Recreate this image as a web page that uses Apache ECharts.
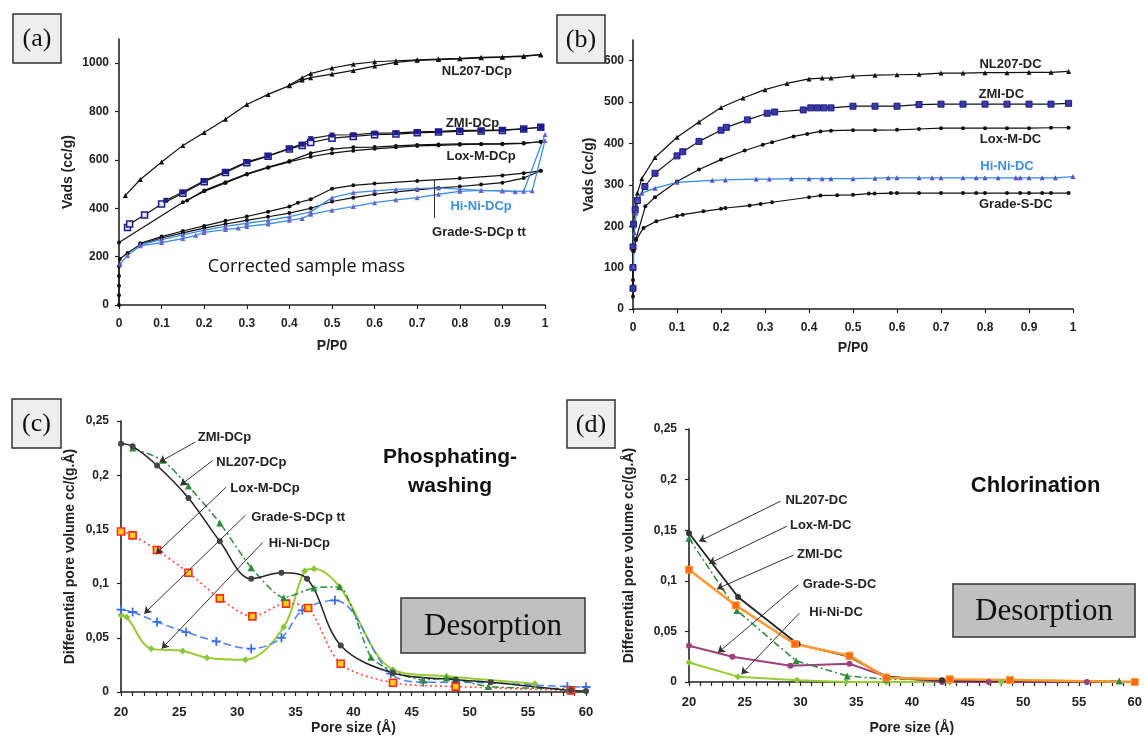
<!DOCTYPE html>
<html>
<head>
<meta charset="utf-8">
<script src="https://cdn.jsdelivr.net/npm/echarts@6/dist/echarts.min.js"></script>
<style>
  html, body { margin: 0; background: #fff; }
  #chart { width: 1145px; height: 736px; }
</style>
</head>
<body>
<div id="chart"></div>
<script>
const FONT = '"Liberation Sans", Arial, sans-serif';
const SERIF = '"Liberation Serif", "DejaVu Serif", serif';

// (a) phosphating-washing isotherms (adsorption / desorption branches), P/P0 vs cc/g
const aNL207Ads = [[0.015,453],[0.05,519],[0.1,591],[0.15,660],[0.2,713],[0.25,768],[0.3,829],[0.35,871],[0.4,907],[0.43,930],[0.45,940],[0.5,955],[0.55,970],[0.6,988],[0.65,1003],[0.7,1012],[0.75,1015],[0.8,1018],[0.85,1022],[0.9,1025],[0.95,1028],[0.99,1035]];
const aNL207Des = [[0.99,1035],[0.95,1030],[0.9,1026],[0.85,1024],[0.8,1020],[0.75,1017],[0.7,1014],[0.65,1010],[0.6,1006],[0.55,996],[0.5,980],[0.45,957],[0.43,940],[0.4,910]];
const aZMIAds = [[0.02,320],[0.025,335],[0.06,372],[0.1,418],[0.15,462],[0.2,510],[0.25,548],[0.3,588],[0.35,615],[0.4,645],[0.43,660],[0.45,672],[0.5,690],[0.55,697],[0.6,704],[0.65,707],[0.7,712],[0.75,715],[0.8,718],[0.85,720],[0.9,722],[0.95,728],[0.99,735]];
const aZMIDes = [[0.99,735],[0.95,728],[0.9,724],[0.85,722],[0.8,722],[0.75,718],[0.7,716],[0.65,712],[0.6,711],[0.55,704],[0.5,703],[0.45,688],[0.43,665],[0.4,648],[0.35,617],[0.3,592],[0.25,552],[0.2,514],[0.15,467],[0.11,433]];
const aLoxAds = [[0,258],[0.15,425],[0.2,470],[0.25,505],[0.3,540],[0.35,568],[0.4,592],[0.45,613],[0.5,628],[0.55,638],[0.6,646],[0.65,652],[0.7,658],[0.75,660],[0.8,663],[0.85,665],[0.9,665],[0.95,668],[0.99,675]];
const aLoxDes = [[0.99,675],[0.95,670],[0.9,667],[0.85,666],[0.8,666],[0.75,664],[0.7,662],[0.65,658],[0.6,653],[0.55,652],[0.5,645],[0.45,628],[0.4,595],[0.35,570],[0.3,542],[0.25,508],[0.2,474],[0.16,432]];
const aGradeAds = [[0,0],[0,40],[0,80],[0,120],[0,160],[0.002,190],[0.02,215],[0.05,250],[0.1,277],[0.15,298],[0.2,318],[0.25,335],[0.3,350],[0.35,365],[0.4,380],[0.45,400],[0.5,428],[0.55,444],[0.6,458],[0.65,468],[0.7,476],[0.75,484],[0.8,490],[0.85,498],[0.9,506],[0.95,525],[0.99,555]];
const aGradeDes = [[0.99,555],[0.95,545],[0.9,536],[0.8,524],[0.7,513],[0.6,502],[0.55,495],[0.5,481],[0.45,437],[0.42,423],[0.4,407],[0.35,386],[0.3,366],[0.25,348],[0.2,327],[0.15,306],[0.1,283],[0.05,255]];
const aHiNiAds = [[0.003,170],[0.02,205],[0.05,245],[0.1,258],[0.15,275],[0.18,288],[0.2,300],[0.25,312],[0.28,318],[0.3,325],[0.35,335],[0.4,350],[0.43,358],[0.45,375],[0.5,392],[0.55,407],[0.6,423],[0.65,435],[0.7,444],[0.75,458],[0.8,470],[0.85,474],[0.9,472],[0.93,468],[0.97,472],[1.0,680]];
const aHiNiDes = [[1.0,705],[0.95,470],[0.9,472],[0.85,474],[0.8,479],[0.75,484],[0.7,481],[0.65,478],[0.6,472],[0.55,465],[0.5,444],[0.45,385],[0.4,365],[0.35,350],[0.3,338],[0.25,325],[0.2,310],[0.15,290],[0.1,270],[0.05,250]];

// (b) chlorination isotherms
const bNL207 = [[0.003,240],[0.01,280],[0.02,315],[0.05,366],[0.1,415],[0.15,452],[0.2,487],[0.25,510],[0.3,530],[0.35,545],[0.4,556],[0.43,558],[0.45,558],[0.5,563],[0.55,565],[0.6,566],[0.65,567],[0.7,570],[0.75,570],[0.8,571],[0.85,571],[0.9,572],[0.95,572],[0.99,574]];
const bZMI = [[0,50],[0,100],[0,150],[0.001,205],[0.005,240],[0.01,262],[0.027,296],[0.05,328],[0.1,370],[0.113,380],[0.15,405],[0.2,432],[0.212,439],[0.26,457],[0.305,473],[0.322,476],[0.387,481],[0.404,486],[0.419,486],[0.434,486],[0.45,486],[0.5,490],[0.55,490],[0.6,490],[0.65,494],[0.7,495],[0.75,495],[0.8,495],[0.85,495],[0.9,495],[0.95,495],[0.99,497]];
const bLox = [[0.002,140],[0.007,170],[0.028,248],[0.05,270],[0.1,308],[0.15,337],[0.2,361],[0.254,383],[0.295,397],[0.316,403],[0.365,417],[0.396,423],[0.426,429],[0.45,431],[0.5,432],[0.55,432],[0.6,433],[0.65,435],[0.7,437],[0.75,437],[0.8,437],[0.85,437],[0.9,437],[0.95,438],[0.99,438]];
const bHiNi = [[0.001,103],[0.003,184],[0.007,232],[0.011,262],[0.02,280],[0.05,292],[0.1,306],[0.18,311],[0.21,312],[0.28,314],[0.31,314],[0.36,315],[0.4,315],[0.43,315],[0.45,315],[0.5,315],[0.55,316],[0.58,317],[0.6,317],[0.65,317],[0.68,317],[0.7,317],[0.75,317],[0.78,317],[0.8,317],[0.83,317],[0.87,317],[0.88,317],[0.9,317],[0.93,317],[0.96,317],[1.0,320]];
const bGrade = [[0,30],[0,70],[0,140],[0.007,167],[0.024,196],[0.053,212],[0.1,225],[0.113,228],[0.16,236],[0.2,242],[0.21,244],[0.265,250],[0.29,254],[0.316,258],[0.4,270],[0.426,274],[0.464,275],[0.5,276],[0.536,279],[0.549,279],[0.586,280],[0.6,280],[0.65,280],[0.7,280],[0.75,280],[0.78,280],[0.8,280],[0.85,280],[0.88,280],[0.9,280],[0.93,280],[0.95,280],[0.99,280]];

// (c) pore size distribution, phosphating-washing (desorption)
const cNL207 = [[20,0.229],[21,0.2266],[23.1,0.209],[25.8,0.179],[28.5,0.139],[31.2,0.1045],[33.8,0.11],[36,0.1045],[38.9,0.043],[43.4,0.0175],[48.8,0.0114],[51.8,0.009],[58.7,0.0015],[60,0.001]];
const cZMI = [[21,0.225],[23.6,0.2137],[25.8,0.19],[28.5,0.156],[31.2,0.1147],[34,0.087],[36.6,0.096],[38.8,0.097],[41.5,0.032],[43.4,0.019],[46,0.011],[48,0.013],[51.6,0.005],[58.7,0.003]];
const cLox = [[20,0.148],[21,0.1445],[23.1,0.131],[25.8,0.11],[28.5,0.0864],[31.3,0.0698],[34.2,0.0815],[36.1,0.0775],[38.9,0.026],[43.4,0.0086],[48.8,0.005],[58.7,0.0015]];
const cGrade = [[20,0.076],[21,0.0738],[23.1,0.0646],[25.6,0.0553],[28.2,0.0467],[31.2,0.04],[33.8,0.05],[35.6,0.0753],[38.4,0.0846],[43.2,0.017],[46,0.009],[48.8,0.009],[58.4,0.005],[60,0.0046]];
const cHiNi = [[20,0.0707],[20.5,0.069],[22.6,0.04],[25.3,0.0378],[27.4,0.0317],[30.7,0.0298],[34,0.06],[35.8,0.1116],[36.6,0.1138],[38.8,0.097],[43.4,0.0206],[48,0.0145],[55.6,0.0077]];

// (d) pore size distribution, chlorination (desorption)
const dNL207 = [[20,0.147],[24.4,0.084],[29.75,0.0375],[34.35,0.025],[37.7,0.0053],[42.7,0.0017],[48.8,0.001],[60,0]];
const dLox = [[20,0.111],[24.2,0.0757],[29.5,0.0375],[34.4,0.026],[37.7,0.0043],[43.4,0.0027],[48.8,0.002],[60,0]];
const dZMI = [[20,0.142],[24.3,0.0707],[29.6,0.021],[34.2,0.006],[37.7,0.0027],[48.9,0.0017],[58.6,0.001]];
const dGrade = [[20,0.0359],[23.9,0.025],[29.1,0.016],[34.4,0.018],[37.7,0.0053],[42.7,0],[46.9,0],[55.7,0]];
const dHiNi = [[20,0.0193],[24.4,0.0053],[29.7,0.0017],[34.1,0],[37.7,0],[43.4,0],[48,0],[55.7,0]];

// curve labels: [text, x, y] in data units; leader lines: [x1, y1, x2, y2]
const notesA = [['NL207-DCp',0.84,964,'#222'],['ZMI-DCp',0.83,751,'#222'],['Lox-M-DCp',0.85,613,'#222'],['Hi-Ni-DCp',0.85,406,'#3d8fe0'],['Grade-S-DCp tt',0.845,302,'#222']];
const notesB = [['NL207-DC',0.858,590,'#222'],['ZMI-DC',0.837,519,'#222'],['Lox-M-DC',0.858,409,'#222'],['Hi-Ni-DC',0.85,345,'#3d8fe0'],['Grade-S-DC',0.87,252,'#222']];
const notesC = [['ZMI-DCp',26.6,0.2352],['NL207-DCp',28.2,0.212],['Lox-M-DCp',29.4,0.1875],['Grade-S-DCp tt',31.2,0.1614],['Hi-Ni-DCp',32.7,0.137]];
const leadC = [[26.4,0.2306,23.3,0.212],[27.9,0.2137,25.1,0.1906],[29.05,0.189,23.0,0.1276],[30.7,0.163,22.0,0.0723],[32.2,0.138,23.5,0.040]];
const notesD = [['NL207-DC',28.65,0.179],['Lox-M-DC',29.06,0.155],['ZMI-DC',29.7,0.126],['Grade-S-DC',30.2,0.096],['Hi-Ni-DC',30.8,0.069]];
const leadD = [[28.2,0.1786,20.9,0.139],[28.8,0.154,21.8,0.117],[29.4,0.1255,22.5,0.092],[29.8,0.096,22.6,0.029],[29.9,0.068,24.7,0.0076]];

const chart = echarts.init(document.getElementById('chart'));

const grids = [
  { left: 119, top: 39, width: 426, height: 266 },
  { left: 633, top: 40, width: 440, height: 269 },
  { left: 121, top: 421, width: 465, height: 271 },
  { left: 689, top: 429, width: 449, height: 253 }
];

const axisColor = '#222';
function axis(i, min, max, step, name, gap, margin, size, extra) {
  return Object.assign({
    type: 'value', gridIndex: i, min: min, max: max, interval: step,
    name: name, nameLocation: 'middle', nameGap: gap, nameMoveOverlap: false,
    nameTextStyle: { color: axisColor, fontFamily: FONT, fontSize: 14, fontWeight: 'bold' },
    axisLine: { show: true, onZero: false, lineStyle: { color: axisColor, width: 1.6 } },
    axisTick: { show: true, inside: false, length: 4, lineStyle: { color: axisColor, width: 1.2 } },
    splitLine: { show: false },
    axisLabel: { margin: margin, color: axisColor, fontFamily: FONT, fontSize: size, fontWeight: 'bold',
      hideOverlap: false, formatter: v => String(+(+v).toFixed(2)) }
  }, extra || {});
}
const comma = v => String(+(+v).toFixed(2)).replace('.', ',');
const minor = { show: true, splitNumber: 5, length: 4, lineStyle: { color: axisColor, width: 1.2 } };

const xAxis = [
  axis(0, 0, 1, 0.1, 'P/P0', 34, 13, 12),
  axis(1, 0, 1, 0.1, 'P/P0', 32, 13, 12),
  axis(2, 20, 60, 5, 'Pore size (\u00c5)', 29, 14, 13, { minorTick: minor }),
  axis(3, 20, 60, 5, 'Pore size (\u00c5)', 39, 14, 13, { minorTick: minor })
];
const yAxis = [
  axis(0, 0, 1100, 200, 'Vads (cc/g)', 44, 10, 12),
  axis(1, 0, 650, 100, 'Vads (cc/g)', 37, 9, 12),
  axis(2, 0, 0.25, 0.05, 'Differential pore volume cc/(g.\u00c5)', 44, 12, 12),
  axis(3, 0, 0.25, 0.05, 'Differential pore volume cc/(g.\u00c5)', 53, 12, 12)
];
yAxis[0].axisLabel.showMaxLabel = false;
yAxis[1].axisLabel.showMaxLabel = false;
yAxis[2].axisLabel.formatter = comma;
yAxis[3].axisLabel.formatter = comma;

const series = [];
function line(g, data, o) {
  series.push(Object.assign({
    type: 'line', xAxisIndex: g, yAxisIndex: g, data: data,
    symbolSize: 4, showSymbol: true, silent: true, clip: false
  }, o));
}
const blk = { color: '#111', width: 1.2 };

// (a)
line(0, aNL207Ads, { symbol: 'triangle', symbolSize: 5, itemStyle: { color: '#111' }, lineStyle: blk });
line(0, aNL207Des, { symbol: 'triangle', symbolSize: 5, itemStyle: { color: '#111' }, lineStyle: blk });
line(0, aZMIAds, { symbol: 'rect', symbolSize: 6, itemStyle: { color: '#e6e6f5', borderColor: '#1c1c8a', borderWidth: 1.5 }, lineStyle: blk });
line(0, aZMIDes, { symbol: 'rect', symbolSize: 5, itemStyle: { color: '#1c1c8a' }, lineStyle: blk });
line(0, aLoxAds, { symbol: 'circle', symbolSize: 4, itemStyle: { color: '#111' }, lineStyle: blk });
line(0, aLoxDes, { symbol: 'circle', symbolSize: 4, itemStyle: { color: '#111' }, lineStyle: blk });
line(0, aGradeAds, { symbol: 'circle', symbolSize: 4, itemStyle: { color: '#111' }, lineStyle: blk });
line(0, aGradeDes, { symbol: 'circle', symbolSize: 4, itemStyle: { color: '#111' }, lineStyle: blk,
  markLine: { silent: true, symbol: ['none', 'none'], label: { show: false },
    lineStyle: { color: '#333', width: 1, type: 'solid' },
    data: [[{ coord: [0.74, 519] }, { coord: [0.74, 360] }]] } });
line(0, aHiNiAds, { symbol: 'triangle', symbolSize: 5, itemStyle: { color: '#6a62cc' }, lineStyle: { color: '#3d8fe0', width: 1.3 } });
line(0, aHiNiDes, { symbol: 'triangle', symbolSize: 5, itemStyle: { color: '#6a62cc' }, lineStyle: { color: '#3d8fe0', width: 1.3 } });

// (b)
line(1, bNL207, { symbol: 'triangle', symbolSize: 5, itemStyle: { color: '#111' }, lineStyle: blk });
line(1, bZMI, { symbol: 'rect', symbolSize: 6, itemStyle: { color: '#3a3aa0', borderColor: '#1c1c8a', borderWidth: 1 }, lineStyle: blk });
line(1, bLox, { symbol: 'circle', symbolSize: 4, itemStyle: { color: '#111' }, lineStyle: blk });
line(1, bGrade, { symbol: 'circle', symbolSize: 4, itemStyle: { color: '#111' }, lineStyle: blk });
line(1, bHiNi, { symbol: 'triangle', symbolSize: 5, itemStyle: { color: '#5a52c0' }, lineStyle: { color: '#2a8ae8', width: 1.3 } });

// (c)
const arrowLines = (lead) => ({
  silent: true, symbol: ['none', 'arrow'], symbolSize: 7, label: { show: false },
  lineStyle: { color: '#333', width: 1, type: 'solid' },
  data: lead.map(l => [{ coord: [l[0], l[1]] }, { coord: [l[2], l[3]] }])
});
line(2, cHiNi, { smooth: 0.35, symbol: 'diamond', symbolSize: 7, itemStyle: { color: '#8cc63f' }, lineStyle: { color: '#99cc33', width: 2 } });
line(2, cGrade, { smooth: 0.35, symbol: 'path://M4,0H6V4H10V6H6V10H4V6H0V4H4Z', symbolSize: 9, itemStyle: { color: '#3a6fe8' }, lineStyle: { color: '#4a80f0', width: 1.5, type: [8, 4] } });
line(2, cLox, { smooth: 0.3, symbol: 'rect', symbolSize: 7, itemStyle: { color: '#ffd21a', borderColor: '#ff2a1a', borderWidth: 1.6 }, lineStyle: { color: '#ff4a3a', width: 1.6, type: [2, 3] } });
line(2, cZMI, { smooth: 0.2, symbol: 'triangle', symbolSize: 7, itemStyle: { color: '#2e8a3c' }, lineStyle: { color: '#2e8a3c', width: 1.5, type: [7, 3, 2, 3] } });
line(2, cNL207, { smooth: 0.35, symbol: 'circle', symbolSize: 6, itemStyle: { color: '#444' }, lineStyle: { color: '#222', width: 1.5 }, markLine: arrowLines(leadC) });

// (d)
line(3, dHiNi, { symbol: 'diamond', symbolSize: 7, itemStyle: { color: '#8cc63f' }, lineStyle: { color: '#99cc33', width: 2 } });
line(3, dGrade, { symbol: 'circle', symbolSize: 6, itemStyle: { color: '#a0407a' }, lineStyle: { color: '#a0407a', width: 2 } });
line(3, dZMI, { symbol: 'triangle', symbolSize: 7, itemStyle: { color: '#2e8a3c' }, lineStyle: { color: '#2e8a3c', width: 1.5, type: [7, 3, 2, 3] } });
line(3, dNL207, { symbol: 'circle', symbolSize: 6, itemStyle: { color: '#333' }, lineStyle: { color: '#222', width: 1.8 }, markLine: arrowLines(leadD) });
line(3, dLox, { symbol: 'rect', symbolSize: 7, itemStyle: { color: '#ff6a1a', borderColor: '#ff9a30', borderWidth: 1 }, lineStyle: { color: '#ff9a30', width: 2.5 } });

chart.setOption({
  animation: false,
  backgroundColor: '#fff',
  grid: grids,
  xAxis: xAxis,
  yAxis: yAxis,
  series: series
});

// texts and boxes placed from data coordinates
const graphics = [];
function text(g, x, y, str, style) {
  const p = chart.convertToPixel({ gridIndex: g }, [x, y]);
  graphics.push({ type: 'text', x: p[0], y: p[1], z: 50, style: Object.assign({
    text: str, fill: '#222', font: 'bold 13px ' + FONT,
    textAlign: 'left', textVerticalAlign: 'middle', align: 'left', verticalAlign: 'middle'
  }, style || {}) });
}
notesA.forEach(n => text(0, n[1], n[2], n[0], { fill: n[3], textAlign: 'center', align: 'center' }));
notesB.forEach(n => text(1, n[1], n[2], n[0], { fill: n[3], textAlign: 'center', align: 'center' }));
notesC.forEach(n => text(2, n[1], n[2], n[0]));
notesD.forEach(n => text(3, n[1], n[2], n[0]));
text(0, 0.44, 156, 'Corrected sample mass', { font: '18px "Open Sans", ' + FONT, fill: '#111', textAlign: 'center', align: 'center' });
text(2, 48.3, 0.2168, 'Phosphating-', { font: 'bold 21px ' + FONT, fill: '#111', textAlign: 'center', align: 'center' });
text(2, 48.3, 0.19, 'washing', { font: 'bold 21px ' + FONT, fill: '#111', textAlign: 'center', align: 'center' });
text(3, 51.1, 0.1936, 'Chlorination', { font: 'bold 22px ' + FONT, fill: '#111', textAlign: 'center', align: 'center' });

function box(x, y, w, h, str, fill, size) {
  graphics.push({ type: 'rect', z: 60, shape: { x: x, y: y, width: w, height: h },
    style: { fill: fill, stroke: '#333', lineWidth: 1.5 } });
  graphics.push({ type: 'text', z: 61, x: x + w / 2, y: y + h / 2 + 1,
    style: { text: str, fill: '#111', font: size + 'px ' + SERIF,
      textAlign: 'center', textVerticalAlign: 'middle', align: 'center', verticalAlign: 'middle' } });
}
box(13, 14, 48, 49, '(a)', '#eeeeee', 26);
box(557, 15, 48, 48, '(b)', '#eeeeee', 26);
box(12, 399, 49, 49, '(c)', '#eeeeee', 26);
box(567, 400, 48, 48, '(d)', '#eeeeee', 26);
box(401, 598, 184, 55, 'Desorption', '#c0c0c0', 31);
box(953, 584, 182, 53, 'Desorption', '#c0c0c0', 31);

chart.setOption({ graphic: { elements: graphics } });
</script>
</body>
</html>
